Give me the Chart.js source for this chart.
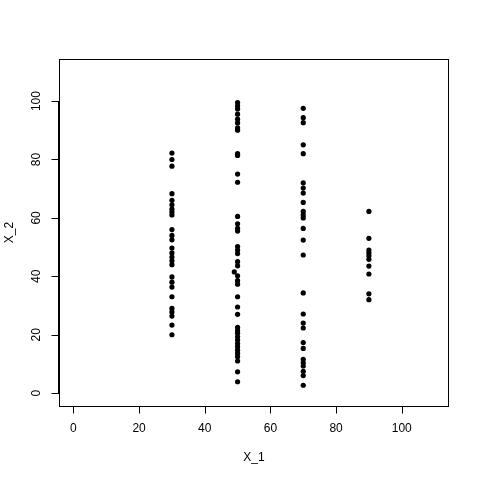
<!DOCTYPE html>
<html>
<head>
<meta charset="utf-8">
<script src="https://cdn.jsdelivr.net/npm/chart.js@4"></script>
<style>
  html, body { margin: 0; padding: 0; background: #fff; }
  #wrap { width: 480px; height: 480px; }
</style>
</head>
<body>
<div id="wrap"><canvas id="chart" width="480" height="480"></canvas></div>
<script>
// X_1 takes a few discrete levels, X_2 values per level
const yAt30 = [82.2, 80, 77.7, 68.3, 66, 64.5, 63, 62, 61, 56, 54, 52.5, 49.7, 48, 46.6, 45.3, 44,
    39.8, 38, 36.3, 33, 29, 27.8, 26.4, 23.3, 20];
const yAt49 = [41.5];
const yAt50 = [99.5, 98.4, 97.3, 95.5, 93.8, 92.5, 90.8, 90, 82, 81.4, 75, 72.2, 60.5, 58, 56.4, 55.5,
    50.2, 49, 47.8, 45, 43.6, 40.2, 38.5, 37.3, 33, 29.5, 27, 22.5, 21.4, 20.5, 19.3, 18.2, 17, 15.9,
    14.7, 13.6, 12.5, 11, 7.3, 3.9];
const yAt70 = [97.5, 94.3, 92.6, 85, 82, 72, 70.2, 68.5, 65.3, 62.2, 61, 60, 56.4, 52.4, 47.3, 34.3,
    27.1, 24, 22.3, 17.3, 15.3, 11.6, 10.4, 9.3, 7.5, 6, 2.7];
const yAt90 = [62.2, 53, 49, 48, 47, 45.8, 43.5, 40.8, 34, 32];

const xTicks = [0, 20, 40, 60, 80, 100];
const yTicks = [0, 20, 40, 60, 80, 100];
const xTitle = 'X_1';
const yTitle = 'X_2';

const groups = [[30, yAt30], [49, yAt49], [50, yAt50], [70, yAt70], [90, yAt90]];
const points = [];
groups.forEach(([x, ys]) => ys.forEach(y => points.push({ x: x, y: y })));

const FONT = '12px "Liberation Sans", Arial, sans-serif';

// draws the R-style frame, ticks and labels from the chart's own scales
const rAxes = {
    id: 'rAxes',
    afterDraw(chart) {
        const ctx = chart.ctx;
        const a = chart.chartArea;
        const xs = chart.scales.x;
        const ys = chart.scales.y;
        ctx.save();
        ctx.strokeStyle = '#000';
        ctx.lineWidth = 1;
        ctx.strokeRect(Math.round(a.left) + 0.5, Math.round(a.top) + 0.5,
            Math.round(a.right - a.left) - 1, Math.round(a.bottom - a.top));

        ctx.fillStyle = '#000';
        ctx.font = FONT;

        // x axis
        ctx.beginPath();
        const x0 = Math.round(xs.getPixelForValue(xTicks[0])) + 0.5;
        const x1 = Math.round(xs.getPixelForValue(xTicks[xTicks.length - 1])) + 0.5;
        const by = Math.round(a.bottom) + 0.5;
        ctx.moveTo(x0, by); ctx.lineTo(x1, by);
        xTicks.forEach(t => {
            const px = Math.round(xs.getPixelForValue(t)) + 0.5;
            ctx.moveTo(px, by); ctx.lineTo(px, by + 7);
        });
        ctx.stroke();
        ctx.textAlign = 'center';
        ctx.textBaseline = 'middle';
        xTicks.forEach(t => ctx.fillText(String(t), xs.getPixelForValue(t), a.bottom + 23));
        ctx.fillText(xTitle, (a.left + a.right) / 2, a.bottom + 52);

        // y axis
        ctx.beginPath();
        const lx = Math.round(a.left) + 0.5;
        const y0 = Math.round(ys.getPixelForValue(yTicks[0])) + 0.5;
        const y1 = Math.round(ys.getPixelForValue(yTicks[yTicks.length - 1])) + 0.5;
        ctx.moveTo(lx - 1, y0); ctx.lineTo(lx - 1, y1);
        yTicks.forEach(t => {
            const py = Math.round(ys.getPixelForValue(t)) + 0.5;
            ctx.moveTo(lx, py); ctx.lineTo(lx - 8, py);
        });
        ctx.stroke();
        yTicks.forEach(t => {
            ctx.save();
            ctx.translate(a.left - 22, ys.getPixelForValue(t));
            ctx.rotate(-Math.PI / 2);
            ctx.fillText(String(t), 0, 0);
            ctx.restore();
        });
        ctx.save();
        ctx.translate(a.left - 49, (a.top + a.bottom) / 2);
        ctx.rotate(-Math.PI / 2);
        ctx.fillText(yTitle, 0, 0);
        ctx.restore();
        ctx.restore();
    }
};

new Chart(document.getElementById('chart'), {
    type: 'scatter',
    data: {
        datasets: [{
            data: points,
            pointRadius: 2.6,
            pointBackgroundColor: '#000',
            pointBorderColor: '#000',
            pointBorderWidth: 0
        }]
    },
    options: {
        responsive: false,
        animation: false,
        layout: { padding: { left: 59, top: 59, right: 31, bottom: 74 } },
        plugins: { legend: { display: false }, tooltip: { enabled: false } },
        scales: {
            x: { type: 'linear', min: -4.4, max: 114.4, display: false },
            y: { type: 'linear', min: -4.4, max: 114.4, display: false }
        }
    },
    plugins: [rAxes]
});
</script>
</body>
</html>
